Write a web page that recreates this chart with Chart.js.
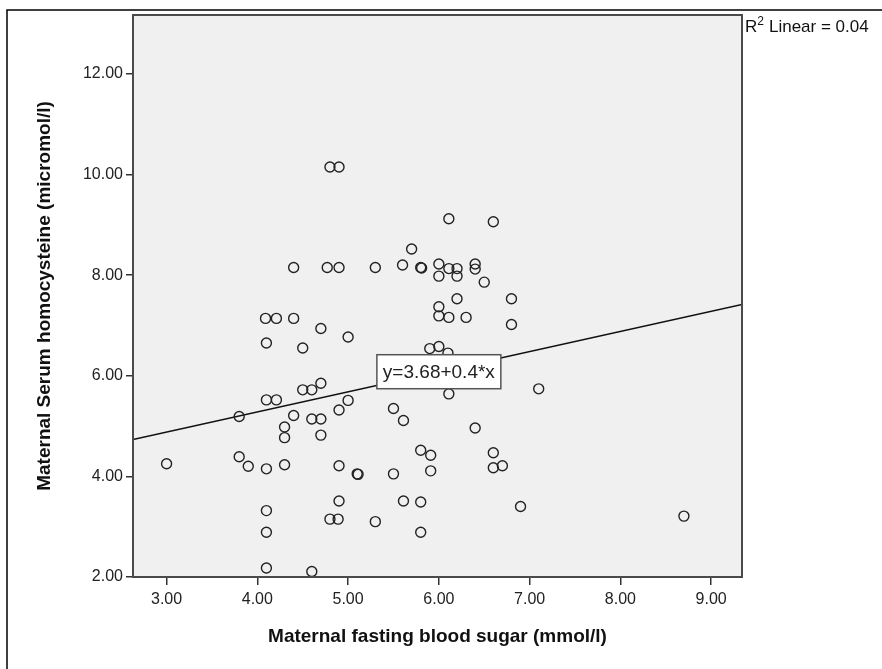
<!DOCTYPE html>
<html lang="en">
<head>
  <meta charset="UTF-8">
  <title>Homocysteine vs fasting blood sugar</title>
  <style>
    html, body { margin: 0; padding: 0; background: #fff; }
    #wrap { width: 882px; height: 669px; }
  </style>
  <script src="https://cdn.jsdelivr.net/npm/chart.js"></script>
</head>
<body>
  <div id="wrap"><canvas id="myChart" width="882" height="669"></canvas></div>
  <script>
    // fasting blood sugar (mmol/l) and serum homocysteine (micromol/l)
    const sugar = [4.80, 4.90, 6.11, 6.60, 5.70, 4.40, 4.77, 4.90, 5.30, 5.60, 5.80, 5.81,
      6.00, 6.00, 6.11, 6.20, 6.20, 6.40, 6.40, 6.50, 6.20, 6.80, 6.00, 6.00, 6.11, 6.30,
      6.80, 4.09, 4.21, 4.40, 4.70, 4.10, 4.50, 5.00, 5.90, 6.00, 6.10, 6.11, 7.10, 3.80,
      4.10, 4.21, 4.50, 4.60, 4.70, 4.40, 4.30, 4.30, 4.60, 4.70, 4.70, 4.90, 5.00, 5.50,
      5.61, 3.00, 3.80, 3.90, 4.10, 4.30, 4.90, 5.10, 5.11, 5.50, 5.80, 5.91, 5.91, 4.10,
      4.90, 5.61, 5.80, 4.80, 4.89, 5.30, 5.80, 4.10, 4.10, 4.60, 6.40, 6.60, 6.60, 6.70,
      6.90, 8.70];
    const homocysteine = [10.15, 10.15, 9.12, 9.06, 8.52, 8.15, 8.15, 8.15, 8.15, 8.20, 8.15, 8.14,
      8.22, 7.98, 8.13, 8.13, 7.98, 8.22, 8.12, 7.86, 7.53, 7.53, 7.37, 7.19, 7.16, 7.16,
      7.02, 7.14, 7.14, 7.14, 6.94, 6.65, 6.55, 6.77, 6.54, 6.58, 6.45, 5.64, 5.74, 5.19,
      5.52, 5.52, 5.72, 5.72, 5.85, 5.21, 4.98, 4.77, 5.14, 5.14, 4.82, 5.32, 5.51, 5.35,
      5.11, 4.25, 4.39, 4.20, 4.15, 4.23, 4.21, 4.05, 4.04, 4.05, 4.52, 4.42, 4.11, 3.32,
      3.51, 3.51, 3.49, 3.15, 3.15, 3.10, 2.89, 2.89, 2.18, 2.11, 4.96, 4.47, 4.17, 4.21,
      3.40, 3.21];

    const xTicks = [3, 4, 5, 6, 7, 8, 9];
    const yTicks = [2, 4, 6, 8, 10, 12];
    const xRange = [2.63, 9.34];
    const yRange = [2, 13.17];

    // linear fit shown on the chart
    const fitIntercept = 3.68;
    const fitSlope = 0.4;
    const rSquared = 0.04;
    const labelAtX = 6.0;

    const points = sugar.map((x, i) => ({ x: x, y: homocysteine[i] }));
    const fitLine = xRange.map(x => ({ x: x, y: fitIntercept + fitSlope * x }));

    const framePlugin = {
      id: 'frame',
      beforeDraw(chart) {
        const c = chart.ctx, a = chart.chartArea;
        c.save();
        c.fillStyle = '#ffffff';
        c.fillRect(0, 0, chart.width, chart.height);
        c.fillStyle = '#f0f0f0';
        c.fillRect(a.left, a.top, a.right - a.left, a.bottom - a.top);
        // outer frame: top and left only
        c.strokeStyle = '#000';
        c.lineWidth = 1.5;
        c.beginPath();
        c.moveTo(7, chart.height);
        c.lineTo(7, 10);
        c.lineTo(chart.width, 10);
        c.stroke();
        c.restore();
      },
      afterDatasetsDraw(chart) {
        const c = chart.ctx, xs = chart.scales.x, ys = chart.scales.y;
        const cx = xs.getPixelForValue(labelAtX);
        const cy = ys.getPixelForValue(fitIntercept + fitSlope * labelAtX);
        const txt = 'y=' + fitIntercept.toFixed(2) + '+' + fitSlope + '*x';
        c.save();
        c.font = '19px Arial, "Liberation Sans", sans-serif';
        const w = c.measureText(txt).width + 12;
        const h = 34;
        c.fillStyle = '#fff';
        c.fillRect(cx - w / 2, cy - h / 2, w, h);
        c.strokeStyle = '#555';
        c.lineWidth = 1.5;
        c.strokeRect(cx - w / 2, cy - h / 2, w, h);
        c.fillStyle = '#222';
        c.textAlign = 'center';
        c.textBaseline = 'middle';
        c.fillText(txt, cx, cy + 1);
        c.restore();
      },
      afterDraw(chart) {
        const c = chart.ctx, a = chart.chartArea;
        c.save();
        c.strokeStyle = '#4a4a4a';
        c.lineWidth = 2;
        c.strokeRect(a.left, a.top, a.right - a.left, a.bottom - a.top);
        // R squared note, outside top right
        c.fillStyle = '#111';
        c.textBaseline = 'alphabetic';
        c.font = '17px Arial, "Liberation Sans", sans-serif';
        let x = a.right + 3;
        const y = a.top + 17;
        c.fillText('R', x, y);
        x += c.measureText('R').width;
        c.font = '12px Arial, "Liberation Sans", sans-serif';
        c.fillText('2', x, y - 7);
        x += c.measureText('2').width + 5;
        c.font = '17px Arial, "Liberation Sans", sans-serif';
        c.fillText('Linear = ' + rSquared.toFixed(2), x, y);
        c.restore();
      }
    };

    const tickFont = { family: 'Arial, "Liberation Sans", sans-serif', size: 16 };
    const titleFont = { family: 'Arial, "Liberation Sans", sans-serif', size: 19, weight: 'bold' };

    new Chart(document.getElementById('myChart'), {
      type: 'scatter',
      data: {
        datasets: [{
          label: 'Observed',
          data: points,
          order: 1,
          pointStyle: 'circle',
          pointRadius: 5,
          pointHoverRadius: 5,
          borderColor: '#222',
          borderWidth: 1.4,
          backgroundColor: 'rgba(0,0,0,0)'
        }, {
          label: 'Linear',
          data: fitLine,
          order: 2,
          showLine: true,
          pointRadius: 0,
          borderColor: '#111',
          borderWidth: 1.6
        }]
      },
      options: {
        responsive: false,
        animation: false,
        layout: { padding: { left: 0, top: 15, right: 140, bottom: 0 } },
        plugins: { legend: { display: false }, tooltip: { enabled: false } },
        scales: {
          x: {
            type: 'linear',
            min: xRange[0],
            max: xRange[1],
            afterBuildTicks: s => { s.ticks = xTicks.map(v => ({ value: v })); },
            afterFit: s => { s.height = 92; },
            border: { display: false },
            grid: { drawOnChartArea: false, drawTicks: true, tickLength: 8, color: '#333', lineWidth: 1.5 },
            ticks: { font: tickFont, color: '#222', padding: 5, maxRotation: 0, callback: v => v.toFixed(2) },
            title: { display: true, text: 'Maternal fasting blood sugar (mmol/l)', font: titleFont, color: '#111', padding: { top: 0, bottom: 21 } }
          },
          y: {
            type: 'linear',
            min: yRange[0],
            max: yRange[1],
            afterBuildTicks: s => { s.ticks = yTicks.map(v => ({ value: v })); },
            afterFit: s => { s.width = 133; },
            border: { display: false },
            grid: { drawOnChartArea: false, drawTicks: true, tickLength: 7, color: '#333', lineWidth: 1.5 },
            ticks: { font: tickFont, color: '#222', padding: 3, callback: v => v.toFixed(2) },
            title: { display: true, text: 'Maternal Serum homocysteine (micromol/l)', font: titleFont, color: '#111', padding: { top: 33, bottom: 0 } }
          }
        }
      },
      plugins: [framePlugin]
    });
  </script>
</body>
</html>
